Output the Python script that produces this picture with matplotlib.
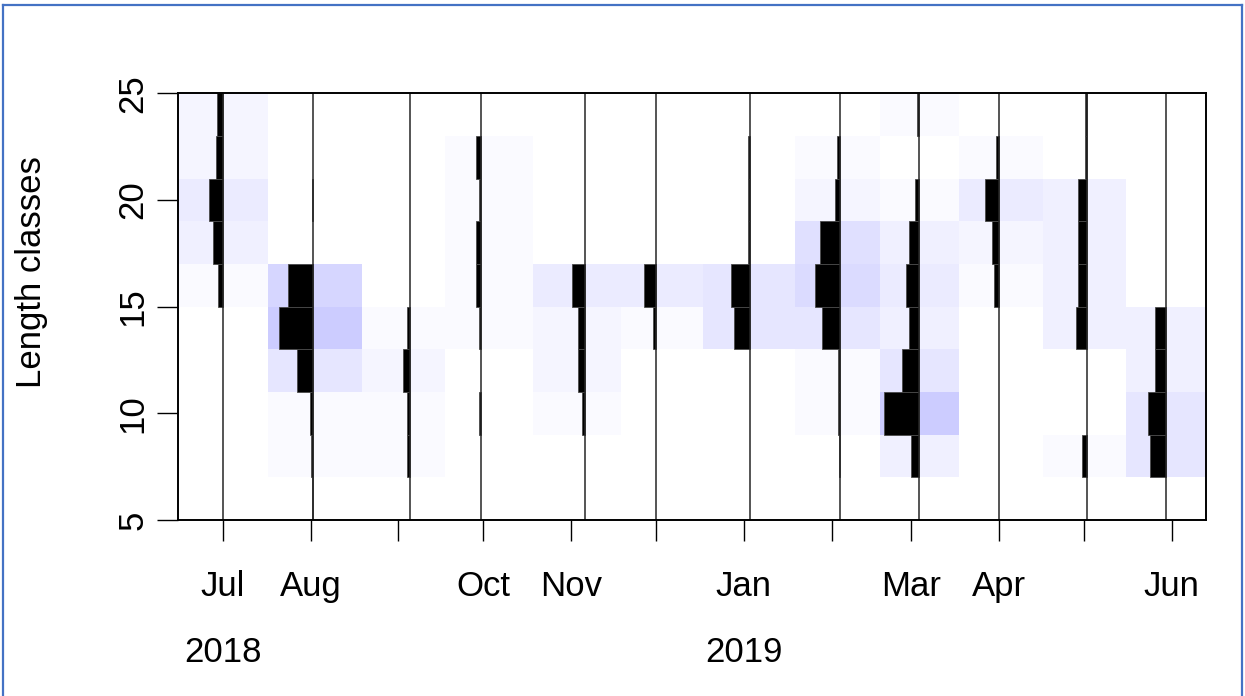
import numpy as np
import pandas as pd
import matplotlib
matplotlib.use("Agg")
import matplotlib.pyplot as plt
import matplotlib.dates as mdates
from matplotlib.colors import LinearSegmentedColormap, BoundaryNorm
from matplotlib.lines import Line2D

plt.rcParams['font.family'] = ['Liberation Sans', 'DejaVu Sans']

# Sampling dates of the length-frequency survey
sample_dates = ["2018-07-01", "2018-08-02", "2018-09-05", "2018-09-30",
                "2018-11-06", "2018-12-01", "2019-01-03", "2019-02-04",
                "2019-03-04", "2019-04-01", "2019-05-02", "2019-05-30"]

# Mid points of the 2 cm length classes
length_mids = [6, 8, 10, 12, 14, 16, 18, 20, 22, 24]

# Catch per length class (one row per class in length_mids, one column per sample)
catch_6 = [0, 4, 0, 0, 0, 0, 0, 0, 0, 0, 0, 0]
catch_8 = [0, 6, 9, 0, 0, 0, 0, 4, 27, 0, 13, 47]
catch_10 = [0, 12, 9, 5, 10, 0, 0, 7, 108, 0, 0, 54]
catch_12 = [0, 51, 22, 0, 22, 0, 0, 7, 53, 0, 0, 32]
catch_14 = [0, 105, 9, 6, 22, 8, 48, 55, 31, 0, 33, 32]
catch_16 = [15, 78, 0, 13, 42, 36, 56, 76, 41, 15, 26, 0]
catch_18 = [30, 0, 0, 13, 0, 0, 4, 62, 33, 22, 26, 0]
catch_20 = [43, 4, 0, 6, 0, 0, 4, 16, 14, 42, 26, 0]
catch_22 = [21, 0, 0, 13, 0, 0, 4, 10, 0, 7, 4, 0]
catch_24 = [19, 0, 0, 0, 0, 0, 0, 0, 7, 0, 4, 0]

# Axis annotation
y_ticks = [5, 10, 15, 20, 25]
month_ticks = ["2018-07-01", "2018-08-01", "2018-09-01", "2018-10-01",
               "2018-11-01", "2018-12-01", "2019-01-01", "2019-02-01",
               "2019-03-01", "2019-04-01", "2019-05-01", "2019-06-01"]
month_labels = ["Jul", "Aug", "", "Oct", "Nov", "", "Jan", "", "Mar", "Apr", "", "Jun"]
year_labels = ["2018", "2019"]
year_positions = ["2018-07-01", "2019-01-01"]

catch = np.array([catch_6, catch_8, catch_10, catch_12, catch_14,
                  catch_16, catch_18, catch_20, catch_22, catch_24], dtype=float)

FS = 25

fig = plt.figure(figsize=(12.45, 6.96), dpi=100)
W, H = 1245.0, 696.0
ax = fig.add_axes([177.5 / W, (H - 520) / H, 1028 / W, 426.7 / H])

d = mdates.date2num(pd.to_datetime(sample_dates))
mids = (d[:-1] + d[1:]) / 2
x_edges = np.concatenate([[d[0] - (d[1] - d[0]) / 2], mids,
                          [d[-1] + (d[-1] - d[-2]) / 2]])
y_edges = np.arange(5, 26, 2)

# Background image: balanced red-white-blue palette with 21 levels
zmax = np.abs(catch).max()
pal = LinearSegmentedColormap.from_list(
    "lfq", [(1, 0.8, 0.8), (1, 1, 1), (0.8, 0.8, 1)], N=21)
norm = BoundaryNorm(np.linspace(-zmax, zmax, 22), ncolors=21, clip=True)
ax.pcolormesh(x_edges, y_edges, catch, cmap=pal, norm=norm,
              shading='flat', antialiased=False, linewidth=0, zorder=1)

# Histograms hanging to the left of each sampling date
bar_scale = 0.5 * np.min(np.diff(d)) / zmax
mids_arr = np.array(length_mids)
for i, di in enumerate(d):
    w = catch[:, i] * bar_scale
    m = w > 0
    ax.barh(mids_arr[m], w[m], left=di - w[m], height=2, color='black',
            edgecolor='#4a4a4a', linewidth=0.6, zorder=3)

ax.vlines(d, 5, 25, colors='#262626', linewidth=1.1, zorder=4)

ax.set_xlim(x_edges[0], x_edges[-1])
ax.set_ylim(5, 25)

ax.set_xticks(mdates.date2num(pd.to_datetime(month_ticks)))
ax.set_xticklabels(month_labels)
ax.set_yticks(y_ticks)
ax.set_yticklabels([str(v) for v in y_ticks], rotation=90, va='center')
ax.tick_params(axis='both', direction='out', length=15, width=1.0,
               color='black', labelsize=FS, labelcolor='black')
ax.tick_params(axis='x', pad=21)
ax.tick_params(axis='y', pad=5)
for s in ax.spines.values():
    s.set_linewidth(1.4)
    s.set_color('black')
    s.set_zorder(5)

ax.set_ylabel("Length classes", fontsize=FS)
ax.yaxis.set_label_coords(-0.126, 0.581)

for lab, pos in zip(year_labels, year_positions):
    ax.annotate(lab, xy=(mdates.date2num(pd.Timestamp(pos)), 0),
                xycoords=('data', 'axes fraction'),
                xytext=(0, -(662 - 520) * 0.72), textcoords='offset points',
                ha='center', va='baseline', fontsize=FS)

# Blue frame around the figure
bc = '#4472c4'
fig.add_artist(Line2D([3 / W, 3 / W], [0, 1 - 5 / H], color=bc, lw=1.6,
                      transform=fig.transFigure))
fig.add_artist(Line2D([3 / W, 1242 / W], [1 - 5 / H, 1 - 5 / H], color=bc,
                      lw=1.6, transform=fig.transFigure))
fig.add_artist(Line2D([1242 / W, 1242 / W], [0, 1 - 5 / H], color=bc, lw=1.6,
                      transform=fig.transFigure))

fig.savefig("out.png", dpi=100)
